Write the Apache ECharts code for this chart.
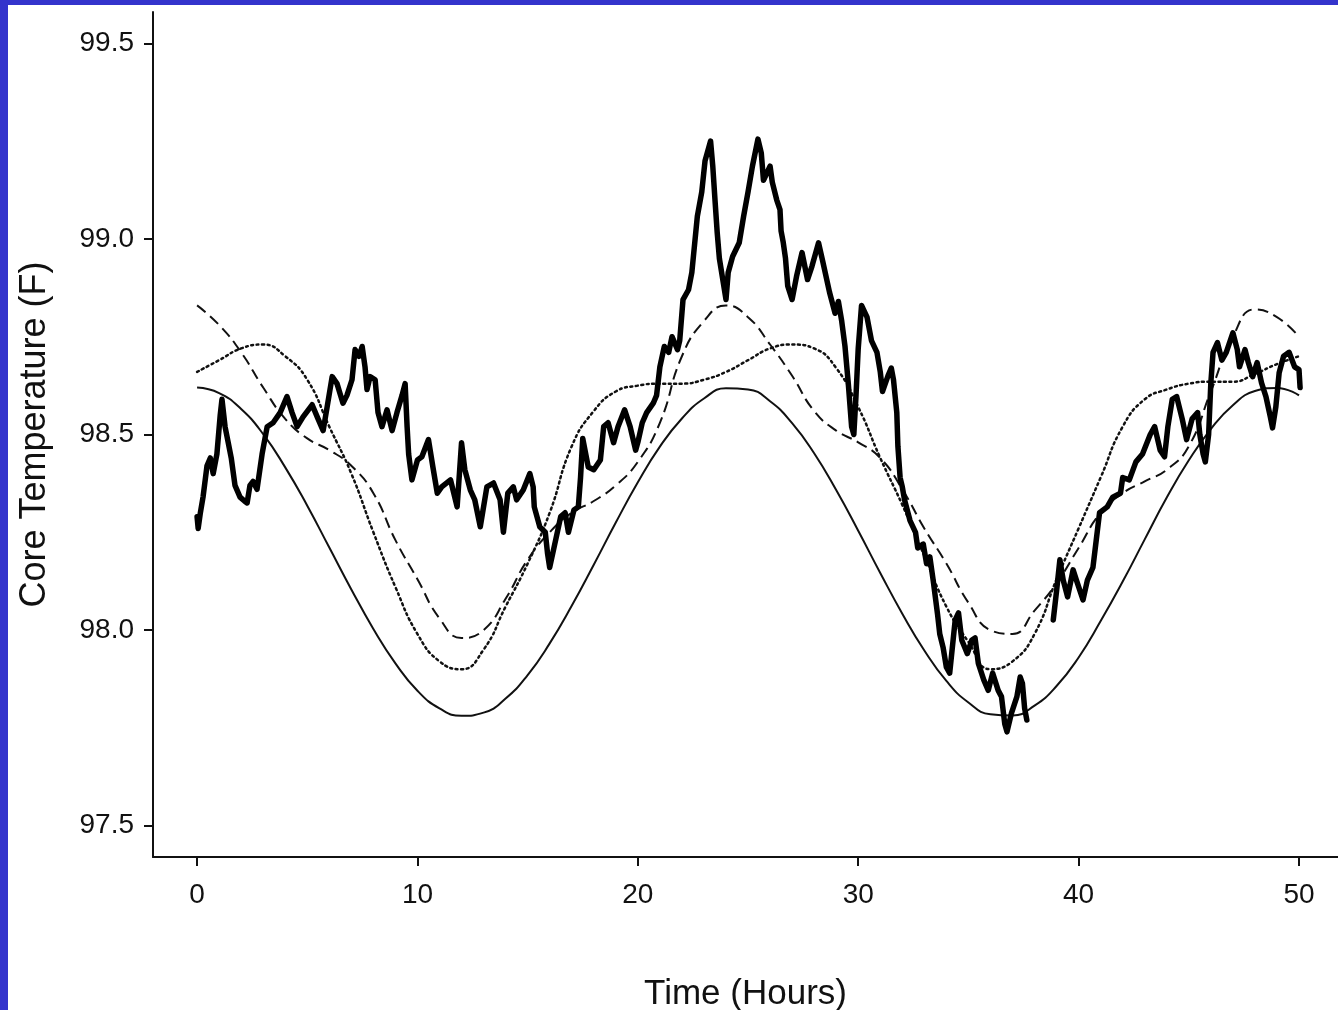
<!DOCTYPE html>
<html>
<head>
<meta charset="utf-8">
<script src="https://cdn.jsdelivr.net/npm/echarts@6/dist/echarts.min.js"></script>
<style>
  html, body { margin: 0; padding: 0; background: #3434cc; overflow: hidden; }
  #chart { position: absolute; left: 8px; top: 5px; width: 1330px; height: 1005px; background: #fff; }
</style>
</head>
<body>
<div id="chart"></div>
<script>
  // hours for the fitted curves
  var hours = [0,1,2,3,4,5,6,7,8,9,10,11,12,13,14,15,16,17,18,19,20,21,22,23,24,25,
    26,27,28,29,30,31,32,33,34,35,36,37,38,39,40,41,42,43,44,45,46,47,48,49,50]

  // solid curve
  var fitSolid = [98.620,98.606,98.565,98.501,98.416,98.318,98.211,98.104,98.003,97.915,
    97.845,97.800,97.781,97.789,97.825,97.885,97.966,98.062,98.167,98.275,98.378,98.469,
    98.541,98.592,98.618,98.615,98.585,98.529,98.452,98.358,98.254,98.146,98.042,97.948,
    97.870,97.815,97.785,97.782,97.807,97.857,97.930,98.023,98.124,98.232,98.339,98.434,
    98.514,98.575,98.611,98.619,98.600]

  // dashed curve
  var fitDashed = [98.83,98.78,98.71,98.62,98.54,98.49,98.46,98.42,98.35,98.23,98.13,98.03,
    97.98,98.00,98.08,98.18,98.25,98.30,98.33,98.37,98.43,98.53,98.70,98.79,98.83,98.80,
    98.73,98.65,98.56,98.51,98.48,98.44,98.36,98.26,98.17,98.07,98.00,97.99,98.05,98.12,
    98.21,98.30,98.35,98.38,98.41,98.47,98.61,98.75,98.82,98.80,98.75]

  // dotted curve
  var fitDotted = [98.66,98.69,98.72,98.73,98.70,98.64,98.52,98.40,98.25,98.11,97.99,97.92,
    97.90,97.95,98.06,98.17,98.30,98.47,98.56,98.61,98.625,98.63,98.63,98.64,98.66,98.69,
    98.72,98.73,98.72,98.67,98.57,98.44,98.32,98.19,98.06,97.97,97.90,97.92,97.99,98.13,
    98.26,98.39,98.52,98.59,98.615,98.63,98.635,98.635,98.655,98.68,98.70]

  // measured core temperature [hour, F]
  var measured = [
    [0.0,98.29],[0.05,98.26],[0.15,98.30],[0.27,98.34],[0.45,98.42],[0.6,98.44],[0.73,98.40],
    [0.9,98.45],[1.05,98.55],[1.13,98.59],[1.27,98.52],[1.41,98.48],[1.55,98.44],[1.72,98.37],
    [1.95,98.34],[2.15,98.33],[2.27,98.325],[2.4,98.37],[2.54,98.38],[2.72,98.36],[2.95,98.45],
    [3.18,98.52],[3.45,98.53],[3.77,98.556],[4.08,98.597],[4.31,98.556],[4.54,98.52],[4.81,98.545],
    [5.22,98.576],[5.49,98.54],[5.72,98.51],[5.9,98.57],[6.13,98.648],[6.35,98.63],[6.62,98.58],
    [6.8,98.60],[7.03,98.64],[7.17,98.717],[7.35,98.70],[7.49,98.725],[7.62,98.673],[7.71,98.615],
    [7.85,98.648],[8.08,98.64],[8.21,98.556],[8.39,98.52],[8.62,98.563],[8.85,98.51],[9.07,98.556],
    [9.3,98.60],[9.44,98.63],[9.53,98.52],[9.6,98.45],[9.75,98.384],[10.0,98.435],[10.2,98.443],
    [10.5,98.487],[10.7,98.417],[10.9,98.35],[11.1,98.366],[11.5,98.384],[11.8,98.315],[12.0,98.479],
    [12.15,98.41],[12.4,98.358],[12.6,98.333],[12.85,98.264],[13.15,98.366],[13.45,98.376],
    [13.75,98.333],[13.9,98.25],[14.1,98.35],[14.35,98.366],[14.5,98.333],[14.8,98.358],[15.1,98.40],
    [15.25,98.366],[15.3,98.315],[15.55,98.264],[15.8,98.25],[15.9,98.197],[16.0,98.16],[16.3,98.238],
    [16.5,98.29],[16.7,98.30],[16.85,98.25],[17.1,98.307],[17.3,98.315],[17.4,98.39],[17.5,98.49],
    [17.75,98.417],[18.0,98.41],[18.3,98.435],[18.45,98.52],[18.65,98.53],[18.9,98.479],[19.1,98.52],
    [19.4,98.563],[19.65,98.52],[19.9,98.46],[20.0,98.48],[20.2,98.53],[20.4,98.556],[20.7,98.58],
    [20.85,98.60],[21.0,98.673],[21.2,98.725],[21.4,98.71],[21.55,98.75],[21.8,98.717],[21.9,98.74],
    [22.05,98.845],[22.3,98.87],[22.45,98.914],[22.7,99.058],[22.9,99.12],[23.05,99.20],[23.3,99.25],
    [23.4,99.186],[23.5,99.10],[23.6,99.017],[23.7,98.95],[23.9,98.88],[24.0,98.845],[24.1,98.914],
    [24.3,98.955],[24.6,98.99],[24.8,99.058],[25.0,99.12],[25.2,99.186],[25.45,99.255],[25.6,99.22],
    [25.7,99.15],[26.0,99.186],[26.1,99.145],[26.3,99.10],[26.45,99.075],[26.5,99.02],[26.6,98.99],
    [26.7,98.95],[26.8,98.88],[27.0,98.845],[27.2,98.904],[27.45,98.965],[27.7,98.896],[27.9,98.93],
    [28.2,98.99],[28.4,98.94],[28.7,98.863],[28.95,98.81],[29.1,98.84],[29.25,98.79],[29.4,98.725],
    [29.55,98.63],[29.7,98.52],[29.8,98.50],[29.9,98.60],[30.0,98.72],[30.15,98.83],[30.4,98.80],
    [30.6,98.74],[30.85,98.71],[31.0,98.66],[31.1,98.61],[31.35,98.65],[31.5,98.67],[31.6,98.64],
    [31.75,98.556],[31.8,98.47],[31.9,98.39],[32.0,98.366],[32.1,98.333],[32.35,98.28],[32.6,98.25],
    [32.7,98.21],[32.95,98.22],[33.1,98.17],[33.25,98.187],[33.4,98.128],[33.6,98.04],[33.7,97.99],
    [33.85,97.956],[34.0,97.905],[34.15,97.89],[34.4,98.026],[34.55,98.044],[34.7,97.974],
    [34.95,97.94],[35.15,97.974],[35.3,97.98],[35.45,97.915],[35.7,97.872],[35.9,97.846],[36.1,97.89],
    [36.35,97.846],[36.5,97.83],[36.65,97.76],[36.75,97.74],[36.95,97.787],[37.2,97.83],[37.35,97.88],
    [37.45,97.864],[37.55,97.80],[37.65,97.77],[38.2,'-'],
    [38.85,98.026],[39.0,98.10],[39.15,98.18],[39.3,98.128],[39.5,98.085],[39.75,98.154],
    [39.9,98.128],[40.2,98.077],[40.4,98.128],[40.65,98.16],[40.8,98.23],[40.95,98.30],[41.3,98.315],
    [41.55,98.34],[41.9,98.35],[42.0,98.39],[42.3,98.384],[42.6,98.43],[42.9,98.45],[43.25,98.50],
    [43.45,98.52],[43.7,98.46],[43.9,98.443],[44.05,98.52],[44.25,98.59],[44.45,98.597],[44.7,98.54],
    [44.9,98.487],[45.15,98.54],[45.4,98.556],[45.5,98.50],[45.65,98.45],[45.75,98.43],[45.9,98.50],
    [46.0,98.632],[46.1,98.71],[46.3,98.735],[46.5,98.69],[46.7,98.71],[47.0,98.76],[47.2,98.717],
    [47.3,98.673],[47.55,98.717],[47.7,98.684],[47.9,98.648],[48.1,98.684],[48.3,98.632],
    [48.5,98.597],[48.7,98.545],[48.8,98.517],[48.95,98.571],[49.1,98.658],[49.3,98.70],
    [49.55,98.71],[49.8,98.673],[50.0,98.666],[50.05,98.62]
  ]

  var xTicks = [0, 10, 20, 30, 40, 50]
  var yTicks = [97.5, 98.0, 98.5, 99.0, 99.5]

  function pairs(vals) {
    return hours.map(function(h, i) { return [h, vals[i]] })
  }

  var font = 'Liberation Sans, Arial, sans-serif'
  var chart = echarts.init(document.getElementById('chart'), null, { renderer: 'canvas' })

  chart.setOption({
    animation: false,
    backgroundColor: '#fff',
    // keep the plot box fixed; v6 would otherwise shrink it to fit the axis name
    grid: { left: 145, top: 7, right: 0, height: 845, outerBoundsMode: 'none', containLabel: false },
    xAxis: {
      type: 'value',
      min: -2,
      max: 51.77,
      name: 'Time (Hours)',
      nameLocation: 'middle',
      nameGap: 120,
      nameTextStyle: { fontSize: 35, fontFamily: font, color: '#111' },
      axisLine: { onZero: false, lineStyle: { color: '#111', width: 2 } },
      axisTick: { customValues: xTicks, length: 9, lineStyle: { color: '#111', width: 2 } },
      axisLabel: { customValues: xTicks, fontSize: 28, fontFamily: font, color: '#111', margin: 24 },
      splitLine: { show: false }
    },
    yAxis: {
      type: 'value',
      min: 97.42,
      max: 99.58,
      name: 'Core Temperature (F)',
      nameLocation: 'middle',
      nameGap: 100,
      nameTextStyle: { fontSize: 36, fontFamily: font, color: '#111' },
      axisLine: { onZero: false, lineStyle: { color: '#111', width: 2 } },
      axisTick: { customValues: yTicks, length: 9, lineStyle: { color: '#111', width: 2 } },
      axisLabel: {
        customValues: yTicks, fontSize: 28, fontFamily: font, color: '#111', margin: 19,
        formatter: function(v) { return v.toFixed(1) }
      },
      splitLine: { show: false }
    },
    series: [
      {
        type: 'line', data: pairs(fitSolid), smooth: true, showSymbol: false,
        lineStyle: { color: '#111', width: 2 }
      },
      {
        type: 'line', data: pairs(fitDashed), smooth: true, showSymbol: false,
        lineStyle: { color: '#111', width: 2, type: [11, 6] }
      },
      {
        type: 'line', data: pairs(fitDotted), smooth: true, showSymbol: false,
        lineStyle: { color: '#111', width: 2.5, type: [2, 3.5], cap: 'round' }
      },
      {
        type: 'line', data: measured, showSymbol: false, connectNulls: false,
        lineStyle: { color: '#000', width: 5.5, cap: 'round', join: 'round' }
      }
    ]
  })
</script>
</body>
</html>
